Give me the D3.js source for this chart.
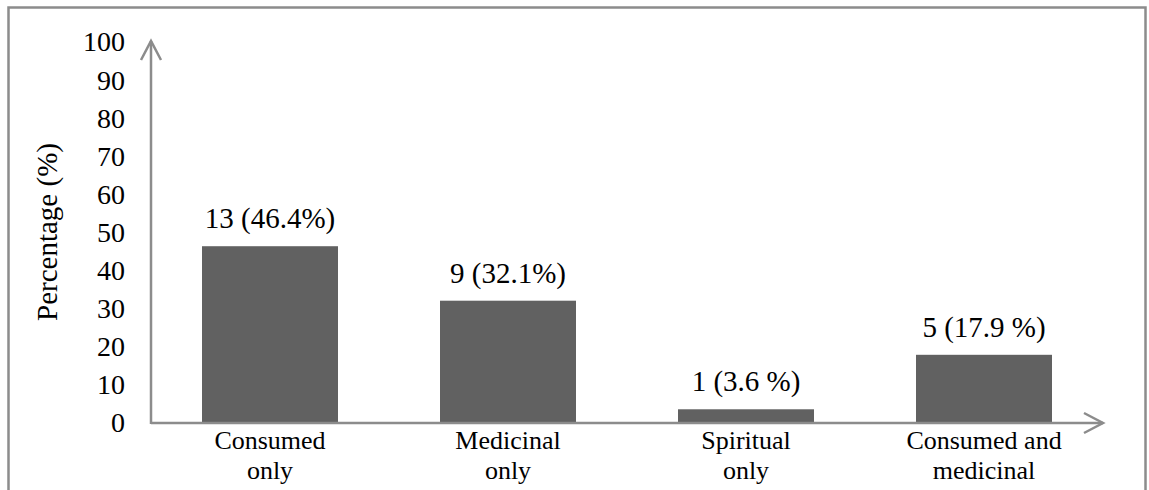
<!DOCTYPE html>
<html>
<head>
<meta charset="utf-8">
<script src="https://cdn.jsdelivr.net/npm/d3@7"></script>
</head>
<body style="margin:0">
<svg id="chart" width="1149" height="490"></svg>
<script>
// Use of plants, by category
const categories = [["Consumed", "only"], ["Medicinal", "only"], ["Spiritual", "only"], ["Consumed and", "medicinal"]];
const percentages = [46.4, 32.1, 3.6, 17.9];
const valueLabels = ["13 (46.4%)", "9 (32.1%)", "1 (3.6 %)", "5 (17.9 %)"];
const yTicks = [0, 10, 20, 30, 40, 50, 60, 70, 80, 90, 100];

const fonts = ["Liberation Serif"];
const face = `'${fonts[0]}'`;
const svg = d3.select("#chart").style("display", "block");
const axisColor = "#8c8c8c";
const barColor = "#616161";

// outer frame
svg.append("rect")
  .attr("x", 8.5).attr("y", 7.5)
  .attr("width", 1137).attr("height", 500)
  .attr("fill", "none").attr("stroke", axisColor).attr("stroke-width", 2.5);

const x = d3.scaleBand()
  .domain(d3.range(categories.length))
  .range([151, 1103])
  .paddingInner(0.4286)
  .paddingOuter(0.2143);

const y = d3.scaleLinear().domain([0, 100]).range([423, 42]);

// bars
svg.selectAll("rect.bar")
  .data(percentages)
  .join("rect")
  .attr("class", "bar")
  .attr("x", (d, i) => x(i))
  .attr("width", x.bandwidth())
  .attr("y", d => y(d))
  .attr("height", d => y(0) - y(d))
  .attr("fill", barColor);

// value labels
svg.selectAll("text.val")
  .data(percentages)
  .join("text")
  .attr("class", "val")
  .attr("x", (d, i) => x(i) + x.bandwidth() / 2)
  .attr("y", d => y(d) - 18)
  .attr("text-anchor", "middle")
  .style("font-family", face)
  .attr("font-size", 29)
  .text((d, i) => valueLabels[i]);

// y axis: tick labels only
const gy = svg.append("g").attr("transform", "translate(151,0)")
  .call(d3.axisLeft(y).tickValues(yTicks).tickSize(0).tickPadding(26));
gy.select(".domain").remove();
gy.selectAll("text")
  .style("font-family", face)
  .attr("font-size", 28)
  .attr("fill", "#000");

// x axis: category labels on two lines
const gx = svg.append("g").attr("transform", "translate(0,423)")
  .call(d3.axisBottom(x).tickSize(0).tickFormat(() => ""));
gx.select(".domain").remove();
gx.selectAll(".tick").each(function(i) {
  const t = d3.select(this).append("text")
    .attr("text-anchor", "middle")
    .style("font-family", face)
    .attr("font-size", 26)
    .attr("fill", "#000");
  categories[i].forEach((line, k) => {
    t.append("tspan").attr("x", 0).attr("y", 26 + k * 30).text(line);
  });
});

// axis lines with open arrowheads
const line = d3.line();
const ax = svg.append("g")
  .attr("fill", "none").attr("stroke", axisColor).attr("stroke-width", 2.5);
ax.append("path").attr("d", line([[x.range()[0], y(0)], [x.range()[1], y(0)]]));
ax.append("path").attr("d", line([[x.range()[1] - 19, y(0) - 10], [x.range()[1], y(0)], [x.range()[1] - 19, y(0) + 10]]));
ax.append("path").attr("d", line([[x.range()[0], y(0) + 1], [x.range()[0], 41]]));
ax.append("path").attr("d", line([[x.range()[0] - 10, 60], [x.range()[0], 41], [x.range()[0] + 10, 60]]));

// y title
svg.append("text")
  .attr("transform", "translate(57,232) rotate(-90)")
  .attr("text-anchor", "middle")
  .style("font-family", face)
  .attr("font-size", 29)
  .text("Percentage (%)");
</script>
</body>
</html>
